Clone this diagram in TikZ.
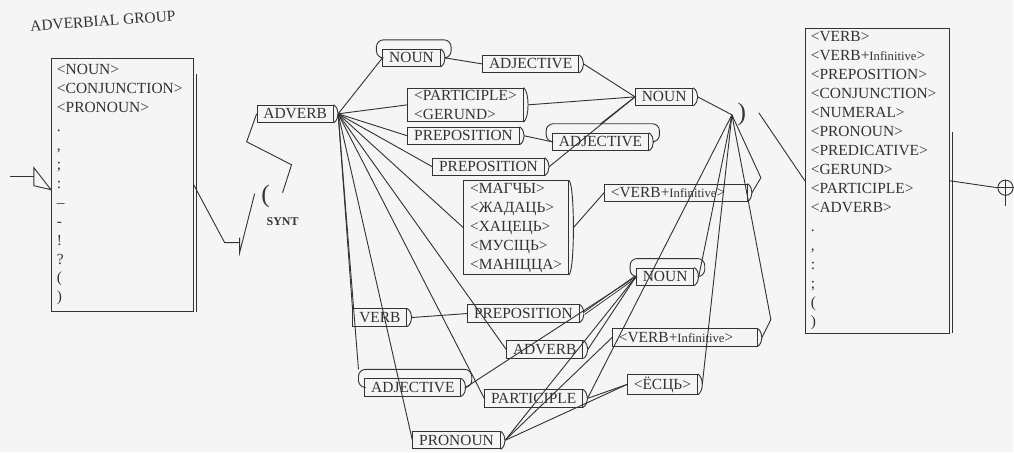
\documentclass[tikz,border=0pt]{standalone}
\usepackage{fontspec}
\setmainfont{Liberation Serif}
\usetikzlibrary{calc}

% repeat loop drawn over a term
\newcommand{\loopover}[1]{%
  \coordinate (#1-u) at ($(#1.north west)+(-6,-9)$);
  \coordinate (#1-r) at ($(#1-t)+(6,0)$);
  \draw[rounded corners=5pt] (#1.west) -| (#1-u) -| (#1-r) -- (#1-t);
}

\begin{document}
\begin{tikzpicture}[
    x=0.025cm, y=-0.025cm,
    font=\fontsize{11}{13.5}\selectfont,
    line width=0.65pt,
    color=black!80,
    term/.style={
        rectangle,
        draw,
        anchor=west,
        inner xsep=4.5pt,
        inner ysep=1.5pt,
        minimum height=0.43cm
    },
    listbox/.style={
        rectangle,
        draw,
        anchor=north west,
        align=left,
        inner xsep=4pt,
        inner ysep=2pt
    },
    paren/.style={
        font=\fontsize{18}{18}\selectfont,
        inner sep=0pt
    }
]
\fill[black!4] (0,0) rectangle (1014,453);

% Nodes
\node (title) [rotate=4] at (103,21) {ADVERBIAL GROUP};

\node (grp) [listbox, text width=3.27cm, minimum height=6.325cm] at (51,58)
{<NOUN>\\<CONJUNCTION>\\<PRONOUN>\\.\\,\\;\\:\\--\\-\\!\\?\\(\\)};

\node (ctx) [listbox, text width=3.32cm, minimum height=7.625cm] at (806,28)
{<VERB>\\<VERB+{\fontsize{9}{10}\selectfont Infinitive}>\\<PREPOSITION>\\<CONJUNCTION>\\<NUMERAL>\\<PRONOUN>\\<PREDICATIVE>\\<GERUND>\\<PARTICIPLE>\\<ADVERB>\\.\\,\\:\\;\\(\\)};

\node (lpar) [paren] at (266,197) {(};
\node (synt) [font=\fontsize{8.5}{9}\selectfont\bfseries] at (283,222) {SYNT};
\node (rpar) [paren] at (743,115) {)};

\node (adv) [term] at (257,114) {ADVERB};

\node (nounA) [term] at (383,58) {NOUN};
\node (adjA) [term] at (483,64) {ADJECTIVE};
\node (partger) [term, align=left] at (408,105) {<PARTICIPLE>\\<GERUND>};
\node (prepA) [term] at (408,136) {PREPOSITION};
\node (adjB) [term] at (553,142) {ADJECTIVE};
\node (prepB) [term] at (433,167) {PREPOSITION};
\node (modal) [term, align=left] at (464,228)
{<МАГЧЫ>\\<ЖАДАЦЬ>\\<ХАЦЕЦЬ>\\<МУСІЦЬ>\\<МАНІЦЦА>};
\node (nounB) [term] at (636,97) {NOUN};
\node (infA) [term, text width=3.25cm, align=left] at (605,193)
{<VERB+{\fontsize{9}{10}\selectfont Infinitive}>};

\node (verb) [term] at (353,318) {VERB};
\node (prepC) [term] at (468,314) {PREPOSITION};
\node (advB) [term] at (507,350) {ADVERB};
\node (adjC) [term] at (365,388) {ADJECTIVE};
\node (partc) [term] at (485,399) {PARTICIPLE};
\node (pron) [term] at (413,441) {PRONOUN};
\node (nounC) [term] at (637,277) {NOUN};
\node (infB) [term, text width=3.3cm, align=left] at (613,338)
{<VERB+{\fontsize{9}{10}\selectfont Infinitive}>};
\node (yesc) [term] at (628,385) {<ЁСЦЬ>};

\node (stop) [circle, draw, minimum size=0.38cm, inner sep=0pt] at (1007,188) {};

% Tabs
\foreach \n in {adv,nounA,adjA,partger,prepA,adjB,prepB,modal,nounB,infA,
                verb,prepC,advB,adjC,partc,pron,nounC,infB,yesc}{
  \draw (\n.north east) .. controls +(6,4) and +(6,-4) .. (\n.south east);
  \coordinate (\n-t) at ($(\n.east)+(4.5,0)$);
}

% Loops
\loopover{nounA}
\loopover{adjB}
\loopover{nounC}
\loopover{adjC}

% Box shadows
\draw ([xshift=1.8pt,yshift=-0.4cm]grp.north east) -- ([xshift=1.8pt]grp.south east);
\draw ([xshift=1.8pt,yshift=-2.6cm]ctx.north east) -- ([xshift=1.8pt]ctx.south east);

% Entry
\coordinate (in) at (10,177);
\coordinate (inTip) at (34,177);
\draw (in) -- (inTip);
\draw ($(inTip)+(0,-9)$) -- ($(grp.west)+(0,5)$) -- ($(inTip)+(0,9)$) -- cycle;

% Into the group
\coordinate (dip) at (225,243);
\coordinate (gate) at (240,243);
\coordinate (sopen) at (255,194);
\coordinate (sback) at (283,193);
\draw (grp.east) -- (dip) -- (gate);
\draw ($(gate)+(0,-5)$) -- ($(gate)+(0,10)$) -- (sopen);
\draw (sback) -- (292,165) -- (247,142) -- (adv.west);

% Arrows
\foreach \t in {nounA.west,partger.west,prepA.west,prepB.west,modal.west,
                advB.west,partc.west,pron.west,verb.north west,adjC-u}
  \draw (adv-t) -- (\t);

\draw (nounA-t) -- (adjA.west);
\draw (adjA-t) -- (nounB.west);
\draw (partger-t) -- (nounB.west);
\draw (prepA-t) -- (adjB.west);
\draw (prepB-t) -- (nounB.west);
\draw (nounB.west) -- (adjB-u -| adjB.north);
\draw (modal-t) -- (infA.west);

\coordinate (join) at (733,115);
\coordinate (kinkA) at (762,178);
\coordinate (kinkB) at (772,320);
\draw (nounB-t) -- (join);
\draw (infA-t) -- (kinkA) -- (join);

\draw (verb-t) -- (prepC.west);
\draw[double, double distance=0.8pt] (prepC-t) -- (nounC.west);
\draw (advB-t) -- (nounC.west);
\draw (adjC-t) -- (nounC.west);
\draw (partc-t) -- (yesc.west);
\draw (pron-t) -- (yesc.west);
\draw (pron-t) -- (infB.west);
\draw (pron-t) -- (nounC.west);
\draw (partc-t) -- (join);
\draw (nounC-t) -- (join);
\draw (yesc-t) -- (join);
\draw (infB-t) -- (kinkB) -- (join);

% Exit
\coordinate (out) at (760,113);
\draw (out) -- (ctx.west);
\draw (ctx.east) -- (stop.west);
\draw (stop.west) -- (stop.east);
\draw (stop.north) -- ([yshift=-0.25cm]stop.south);

\end{tikzpicture}
\end{document}
